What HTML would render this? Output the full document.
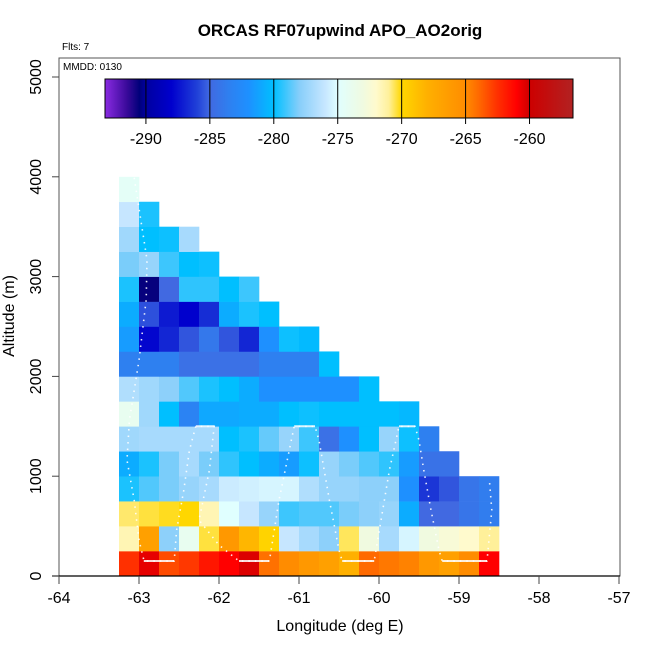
<!DOCTYPE html>
<html><head><meta charset="utf-8">
<style>
html,body{margin:0;padding:0;background:#fff;}
svg{display:block;font-family:"Liberation Sans",Arial,sans-serif;}
</style></head>
<body>
<svg id="chart" width="650" height="650" viewBox="0 0 650 650">
  <defs><linearGradient id="cbgrad" x1="0" x2="1" y1="0" y2="0"></linearGradient></defs>
  <text x="340" y="36" text-anchor="middle" font-size="17" font-weight="bold">ORCAS RF07upwind APO_AO2orig</text>
  <text x="62" y="50" font-size="10">Flts: 7</text>
  <rect x="59" y="58" width="561" height="518" fill="none" stroke="#555" stroke-width="1"/>
  <text x="63" y="70" font-size="10">MMDD: 0130</text>
  <g id="cells"></g>
  <g id="path"></g>
  <g id="axes"></g>
  <g id="colorbar"></g>
  <text x="340" y="631" text-anchor="middle" font-size="16">Longitude (deg E)</text>
  <text transform="translate(14,316) rotate(-90)" text-anchor="middle" font-size="16">Altitude (m)</text>
</svg>
<script>
const lonStart = -63.25;
const lonStep = 0.25;
const altStep = 250;
const xTicks = [-64,-63,-62,-61,-60,-59,-58,-57];
const yTicks = [0,1000,2000,3000,4000,5000];
const cbTicks = [-290,-285,-280,-275,-270,-265,-260];
const cbMin = -293.2, cbMax = -256.6;
// rows from bottom (0-250 m) to top; values in per meg
const row0 = [-262.5,-260.5,-263.2,-262.7,-261.7,-261,-260.3,-264.2,-265,-266,-266.7,-268,-264,-264.4,-264.7,-266,-266.7,-265,-261];
const row1 = [-271.5,-266.7,-277.8,-274,-270.4,-266,-268.3,-269.8,-276,-277,-277.8,-270.6,-273,-277,-275.4,-273,-272.5,-272,-271];
const row2 = [-270.7,-270.4,-270.2,-270,-271.5,-275,-276,-277.5,-279.1,-278.8,-278.8,-278.2,-277.8,-277.5,-280.8,-285,-285,-284.2,-283.7];
const row3 = [-279.6,-278.8,-278.2,-277.5,-277,-275.8,-275.6,-275.4,-275.4,-276.7,-277.5,-277.5,-277.8,-277.8,-282,-286.3,-285.5,-284.2,-283.7];
const row4 = [-280.8,-279.6,-278.2,-277,-278.2,-279.3,-280,-280.8,-281.5,-279.8,-277.5,-278.2,-278.8,-279.3,-281.5,-284.4,-284.4];
const row5 = [-277.2,-277,-277,-277,-277,-280,-279.6,-278.5,-277.5,-279.1,-284.5,-282,-280,-277.5,-279.8,-283.5];
const row6 = [-274,-277.2,-280,-283.2,-281,-281,-280.8,-280.8,-280,-279.8,-280,-280,-280,-280,-280.3];
const row7 = [-276.7,-277.2,-277.8,-278.8,-279.6,-280,-280.8,-282,-282,-282,-282,-282,-280];
const row8 = [-283.5,-283.5,-283.5,-284.5,-284.5,-284.5,-284.5,-283.5,-283.5,-283.5,-280];
const row9 = [-281.5,-287.8,-286.8,-285.5,-284,-285.5,-286.8,-282,-279.8,-280.2];
const row10 = [-280.8,-285.6,-287.2,-288,-286.6,-280.8,-279.6,-280];
const row11 = [-279.6,-290.6,-285,-279.3,-279.3,-280,-279.1];
const row12 = [-278.2,-277.5,-279.1,-280,-279.8];
const row13 = [-277.2,-280,-279.8,-277];
const row14 = [-276,-279.6];
const row15 = [-274.5];
const rows = [row0,row1,row2,row3,row4,row5,row6,row7,row8,row9,row10,row11,row12,row13,row14,row15];
const trackLon = [-63.06,-62.9,-62.91,-63.0,-63.12,-63.15,-63.06,-63.0,-62.94,-62.94,-62.56,-62.53,-62.44,-62.37,-62.29,-62.06,-62.12,-62.25,-62.0,-61.75,-61.37,-61.25,-61.06,-60.8,-60.75,-60.62,-60.5,-60.46,-60.06,-59.87,-59.75,-59.55,-59.5,-59.44,-59.35,-59.25,-59.21,-58.65,-58.59,-58.62];
const trackAlt = [3990,3170,2770,2160,1560,1160,760,360,160,150,150,460,860,1260,1500,1500,1060,560,310,150,150,760,1500,1500,1360,760,260,150,150,1060,1500,1500,1360,1060,660,260,150,150,660,960];

const stops = [[-293.2,"#8a2be2"],[-291.5,"#3a0a9a"],[-290.5,"#00007a"],[-290,"#0000a0"],[-288,"#0000cd"],[-286,"#2040d8"],[-285,"#4169e1"],[-283.5,"#2e80f0"],[-282,"#1e90ff"],[-280,"#00bfff"],[-278,"#87cefa"],[-276,"#c6e6ff"],[-275,"#e0ffff"],[-273,"#f0fae0"],[-272,"#fffacd"],[-271,"#fff09a"],[-270,"#ffd700"],[-268,"#ffb000"],[-266,"#ff9800"],[-265,"#ff8c00"],[-264,"#ff6a00"],[-262.5,"#ff3000"],[-261,"#ff0000"],[-260,"#cd0000"],[-256.6,"#b22222"]];
function hex(h){return [1,3,5].map(i=>parseInt(h.substr(i,2),16));}
function color(v){
  if(v<=stops[0][0])return stops[0][1];
  for(let i=1;i<stops.length;i++){
    if(v<=stops[i][0]){
      const a=stops[i-1],b=stops[i],t=(v-a[0])/(b[0]-a[0]);
      const ca=hex(a[1]),cb=hex(b[1]);
      return "rgb("+ca.map((c,k)=>Math.round(c+(cb[k]-c)*t)).join(",")+")";
    }
  }
  return stops[stops.length-1][1];
}
const X = lon => 59 + (lon + 64) * 80;
const Y = alt => 576 - alt * 0.0998;
const CX = v => 105 + (v - cbMin) / (cbMax - cbMin) * 468;
const NS="http://www.w3.org/2000/svg";
function mk(tag,attrs,parent){const e=document.createElementNS(NS,tag);for(const k in attrs)e.setAttribute(k,attrs[k]);parent.appendChild(e);return e;}

const cells=document.getElementById('cells');
rows.forEach((r,j)=>{
  r.forEach((v,i)=>{
    if(v==null)return;
    const lon=lonStart+i*lonStep, alt=j*altStep;
    const x0=X(lon), x1=X(lon+lonStep), y0=Y(alt+altStep), y1=Y(alt);
    const el=mk('rect',{x:x0,y:y0,width:x1-x0+0.3,height:y1-y0+0.3,fill:color(v)},cells);
    
    
  });
});

const pg=document.getElementById('path');
const pts=trackLon.map((l,i)=>X(l).toFixed(1)+","+Y(trackAlt[i]).toFixed(1)).join(" ");
const pl=mk('polyline',{points:pts,fill:"none",stroke:"#ffffff","stroke-width":1.6,"stroke-dasharray":"1.5 5","stroke-opacity":0.9},pg);


for(let i=1;i<trackLon.length;i++){
  if(trackAlt[i]===trackAlt[i-1]){
    const seg=mk('line',{x1:X(trackLon[i-1]),y1:Y(trackAlt[i]),x2:X(trackLon[i]),y2:Y(trackAlt[i]),stroke:"#ffffff","stroke-width":2,"stroke-opacity":0.85},pg);
    
    
  }
}

const ax=document.getElementById('axes');
const xl=mk('line',{x1:52,y1:576,x2:620,y2:576,stroke:"#000","stroke-width":1.2},ax);


xTicks.forEach(t=>{
  const tk=mk('line',{x1:X(t),y1:576,x2:X(t),y2:584,stroke:"#444"},ax);
  
  
  const tx=mk('text',{x:X(t),y:603,"text-anchor":"middle","font-size":16},ax);
  tx.textContent=t;
  
  
});
yTicks.forEach(t=>{
  const tk=mk('line',{x1:52,y1:Y(t),x2:59,y2:Y(t),stroke:"#444"},ax);
  
  
  const tx=mk('text',{transform:"translate(41,"+Y(t)+") rotate(-90)","text-anchor":"middle","font-size":16},ax);
  tx.textContent=t;
  
  
});

const grad=document.getElementById('cbgrad');
stops.forEach(s=>{mk('stop',{offset:((s[0]-cbMin)/(cbMax-cbMin)).toFixed(4),"stop-color":s[1]},grad);});
const cb=document.getElementById('colorbar');
const cr=mk('rect',{x:105,y:79,width:468,height:39,fill:"url(#cbgrad)",stroke:"#000","stroke-width":1},cb);


cbTicks.forEach(t=>{
  const ln=mk('line',{x1:CX(t),y1:79,x2:CX(t),y2:124,stroke:"#000","stroke-width":1},cb);
  
  
  const tx=mk('text',{x:CX(t),y:144,"text-anchor":"middle","font-size":16},cb);
  tx.textContent=t;
  
  
});
</script>
</body></html>
